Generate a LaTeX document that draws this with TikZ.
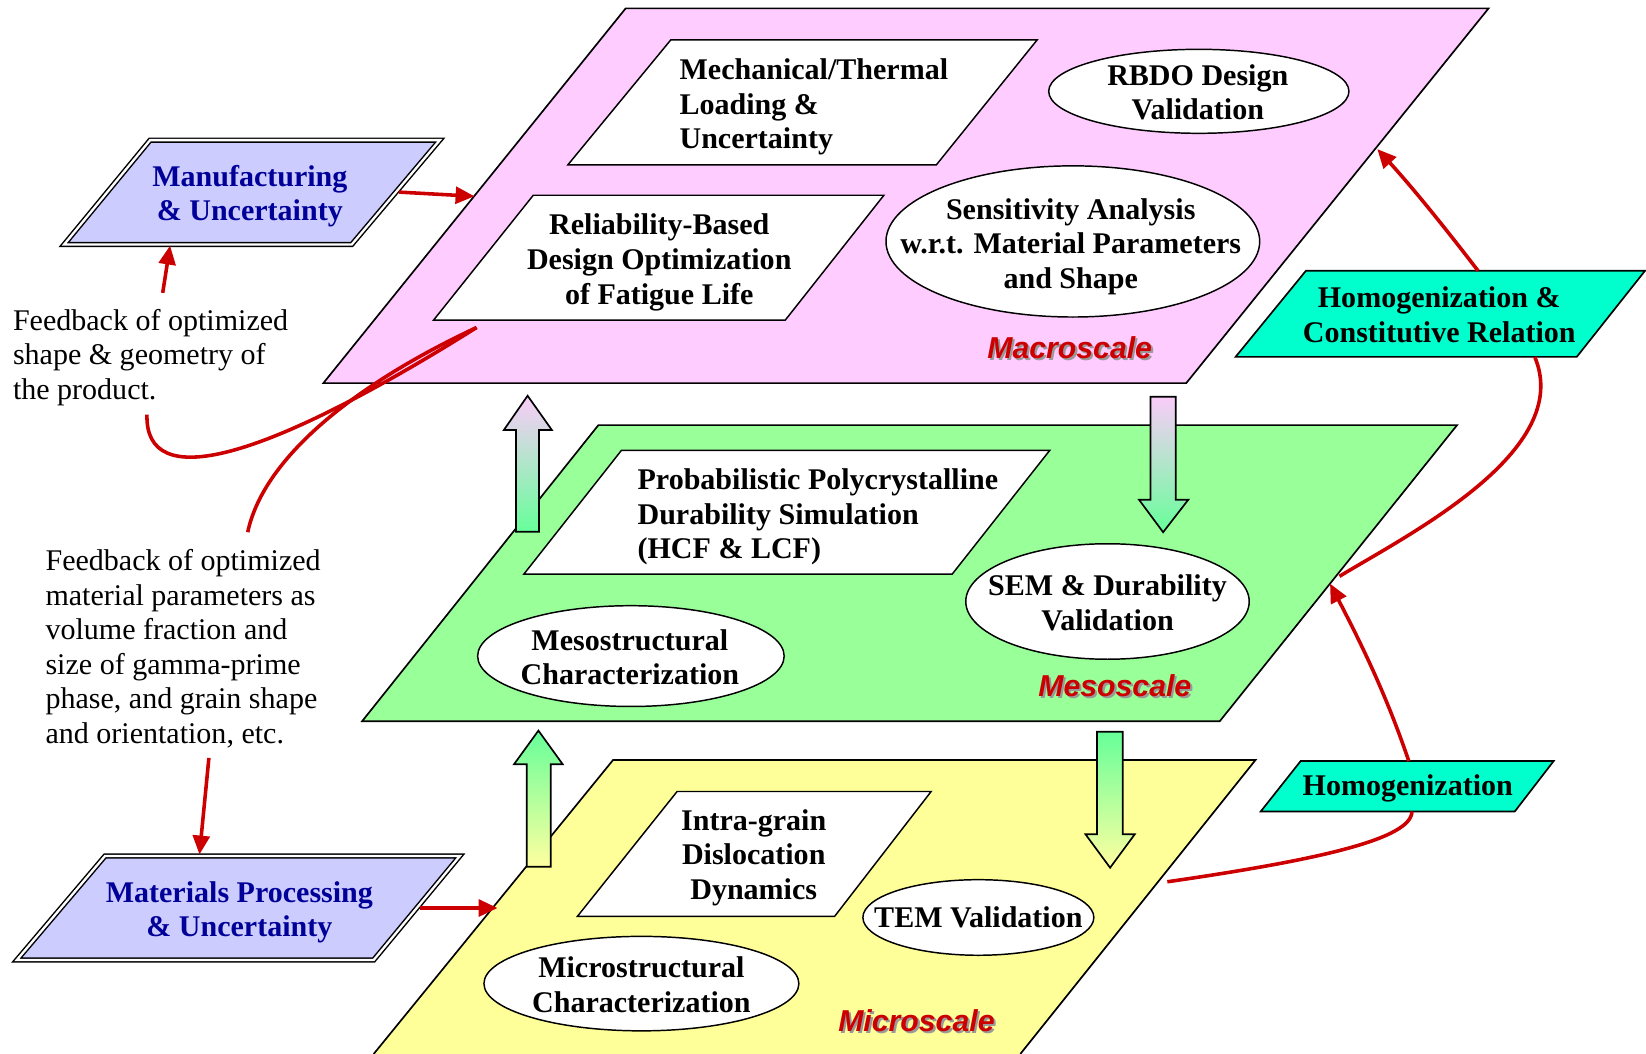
\documentclass[tikz,border=0pt]{standalone}
\usepackage{fontspec}
\setmainfont{Liberation Serif}
\newfontfamily\arialfont{Liberation Sans}
\usetikzlibrary{arrows.meta,shapes.geometric}
\definecolor{macroC}{RGB}{255,204,255}
\definecolor{mesoC}{RGB}{153,255,153}
\definecolor{microC}{RGB}{255,255,153}
\definecolor{boxblue}{RGB}{204,204,255}
\definecolor{navyC}{RGB}{0,0,153}
\definecolor{cyanC}{RGB}{0,255,204}
\definecolor{redC}{RGB}{204,0,0}
\definecolor{arrowpink}{RGB}{250,204,250}
\definecolor{arrowgreen}{RGB}{102,255,153}
\definecolor{arrowyellow}{RGB}{255,255,160}
\begin{document}
\begin{tikzpicture}[x=0.5pt,y=-0.5pt,
  plane/.style={draw=black, line width=0.8pt, line join=miter},
  box/.style={draw=black, fill=white, line width=0.7pt},
  oval/.style={ellipse, draw=black, fill=white, line width=0.7pt, inner sep=0pt},
  txt/.style={font=\fontsize{14.3pt}{16.5pt}\selectfont\bfseries, align=center, inner sep=0pt},
  txtl/.style={txt, align=left, anchor=west},
  note/.style={font=\fontsize{14.3pt}{16.5pt}\selectfont, align=left, inner sep=0pt, anchor=west},
  bluebox/.style={draw=black, double=white, double distance=1.1pt, line width=0.7pt, fill=boxblue},
  bluetxt/.style={txt, text=navyC},
  cyanbox/.style={draw=black, fill=cyanC, line width=0.8pt},
  scl/.style={font=\arialfont\fontsize{14.4pt}{16pt}\selectfont\bfseries\itshape, text=redC, inner sep=0pt},
  sclshadow/.style={scl, text=black!40},
  redarrow/.style={draw=redC, line width=1.7pt, -{Triangle[length=9pt,width=8pt]}},
  redline/.style={draw=redC, line width=1.7pt},
  blockarrow/.style={draw=black, line width=0.8pt}
]
\useasboundingbox (0,0) rectangle (1568,1004);

% ---------- planes ----------
\path[plane, fill=macroC] (596,8) -- (1418,8) -- (1130,365) -- (308,365) -- cycle;
\path[plane, fill=mesoC] (570,405) -- (1388,405) -- (1162,687) -- (345,687) -- cycle;
\fill[microC] (356,1004) -- (584,724) -- (1196,724) -- (972,1004) -- cycle;
\draw[plane] (356,1004) -- (584,724) -- (1196,724) -- (972,1004);

% ---------- macroscale contents ----------
\draw[box] (639,38) -- (988,38) -- (892,157) -- (541,157) -- cycle;
\node[txtl] (mech) at (647,102) {Mechanical/Thermal\\Loading \&\\Uncertainty};
\node[oval, minimum width=143pt, minimum height=40pt] (rbdoE) at (1142,87) {};
\node[txt] (rbdo) at (1141,88) {RBDO Design\\Validation};
\draw[box] (508,186) -- (842,186) -- (748,305) -- (413,305) -- cycle;
\node[txt] (rbd) at (628,250) {Reliability-Based\\Design Optimization\\of Fatigue Life};
\node[oval, minimum width=178pt, minimum height=72pt] (sensE) at (1022,230) {};
\node[txt] (sens) at (1020,235) {Sensitivity Analysis\\w.r.t. Material Parameters\\and Shape};
\node[sclshadow] (macroSh) at (1021,333) {Macroscale};
\node[scl] (macroLbl) at (1019,331) {Macroscale};

% ---------- mesoscale contents ----------
\draw[box] (592,429) -- (1000,429) -- (907,547) -- (499,547) -- cycle;
\node[txtl] (prob) at (607,492.5) {Probabilistic Polycrystalline\\Durability Simulation\\(HCF \& LCF)};
\node[oval, minimum width=135pt, minimum height=55pt] (semE) at (1055,573) {};
\node[txt] (sem) at (1055,574) {SEM \& Durability\\Validation};
\node[oval, minimum width=146pt, minimum height=48pt] (mesoE) at (601,625) {};
\node[txt] (mesoC) at (600,626) {Mesostructural\\Characterization};
\node[sclshadow] (mesoSh) at (1064,655) {Mesoscale};
\node[scl] (mesoLbl) at (1062,653) {Mesoscale};

% ---------- microscale contents ----------
\draw[box] (645,754) -- (887,754) -- (795,873) -- (550,873) -- cycle;
\node[txt] (intra) at (718,817) {Intra-grain\\Dislocation\\Dynamics};
\node[oval, minimum width=110pt, minimum height=36pt] (temE) at (932,874) {};
\node[txt] (tem) at (932,874) {TEM Validation};
\node[oval, minimum width=150pt, minimum height=45pt] (microE) at (611,937) {};
\node[txt] (microCh) at (611,938) {Microstructural\\Characterization};
\node[sclshadow] (microSh) at (875,974) {Microscale};
\node[scl] (microLbl) at (873,972) {Microscale};

% ---------- side boxes ----------
\draw[bluebox] (143,133.5) -- (419,133.5) -- (335,233) -- (61,233) -- cycle;
\node[bluetxt] (mfg) at (238,187) {Manufacturing\\ \& Uncertainty};
\draw[bluebox] (100,815.5) -- (438,815.5) -- (356,914.5) -- (16,914.5) -- cycle;
\node[bluetxt] (mat) at (228,869) {Materials Processing\\\& Uncertainty};
\draw[cyanbox] (1244,258) -- (1567,258) -- (1502,340) -- (1177,340) -- cycle;
\node[txt] (hc) at (1371,300) {Homogenization \&\\Constitutive Relation};
\draw[cyanbox] (1239,725) -- (1480,725) -- (1443,773) -- (1201,773) -- cycle;
\node[txt] (hom) at (1341,751) {Homogenization};

% ---------- notes ----------
\node[note] (fb1) at (12,340.5) {Feedback of optimized\\shape \& geometry of\\the product.};
\node[note] (fb2) at (43,618) {Feedback of optimized\\material parameters as\\volume fraction and\\size of gamma-prime\\phase, and grain shape\\and orientation, etc.};

% ---------- block arrows ----------
\path[top color=arrowpink, bottom color=arrowgreen] (491.6,506.5) -- (491.6,409.6) -- (480,409.6) -- (502.6,377) -- (525.7,409.6) -- (513.5,409.6) -- (513.5,506.5) -- cycle;
\draw[blockarrow] (491.6,506.5) -- (491.6,409.6) -- (480,409.6) -- (502.6,377) -- (525.7,409.6) -- (513.5,409.6) -- (513.5,506.5) -- cycle;
\path[top color=arrowgreen, bottom color=arrowyellow] (501.7,825.6) -- (501.7,728) -- (489.7,728) -- (512.9,696) -- (536,728) -- (524.6,728) -- (524.6,825.6) -- cycle;
\draw[blockarrow] (501.7,825.6) -- (501.7,728) -- (489.7,728) -- (512.9,696) -- (536,728) -- (524.6,728) -- (524.6,825.6) -- cycle;
\path[top color=arrowpink, bottom color=arrowgreen] (1096,378) -- (1120,378) -- (1120,476) -- (1132,476) -- (1108,507) -- (1085,476) -- (1096,476) -- cycle;
\draw[blockarrow] (1096,378) -- (1120,378) -- (1120,476) -- (1132,476) -- (1108,507) -- (1085,476) -- (1096,476) -- cycle;
\path[top color=arrowgreen, bottom color=arrowyellow] (1045,697) -- (1069.6,697) -- (1069.6,794.7) -- (1081,794.7) -- (1057.5,826.6) -- (1034,794.7) -- (1045,794.7) -- cycle;
\draw[blockarrow] (1045,697) -- (1069.6,697) -- (1069.6,794.7) -- (1081,794.7) -- (1057.5,826.6) -- (1034,794.7) -- (1045,794.7) -- cycle;

% ---------- connector end points ----------
\coordinate (mfgR) at (380,183);
\coordinate (macroL) at (452,187);
\coordinate (fb1T) at (155,279);
\coordinate (mfgB) at (162,234);
\coordinate (matR) at (400,865);
\coordinate (microL) at (474,865);
\coordinate (fb2B) at (199,722);
\coordinate (matT) at (190,814);
\coordinate (macroIn) at (454,312);
\coordinate (fb1Bot) at (140,395);
\coordinate (fb2Top) at (236,507);
\coordinate (microR) at (1112,840);
\coordinate (homB) at (1345,773);
\coordinate (homT) at (1342,725);
\coordinate (mesoR) at (1267,556);
\coordinate (mesoR2) at (1276,549);
\coordinate (hcB) at (1462,340);
\coordinate (hcT) at (1408,258);
\coordinate (macroR) at (1312,142);

% ---------- connectors ----------
\draw[redarrow] (mfgR) -- (macroL);
\draw[redarrow] (fb1T) -- (mfgB);
\draw[redarrow] (matR) -- (microL);
\draw[redarrow] (fb2B) -- (matT);
\draw[redline] (fb1Bot) .. controls (138,470) and (250,440) .. (macroIn);
\draw[redline] (macroIn) .. controls (330,370) and (250,440) .. (fb2Top);
\draw[redline] (microR) .. controls (1250,820) and (1345,800) .. (homB);
\draw[redarrow] (homT) .. controls (1320,660) and (1295,610) .. (mesoR);
\draw[redline] (mesoR2) .. controls (1340,510) and (1500,430) .. (hcB);
\draw[redarrow] (hcT) .. controls (1375,215) and (1345,178) .. (macroR);
\end{tikzpicture}
\end{document}
